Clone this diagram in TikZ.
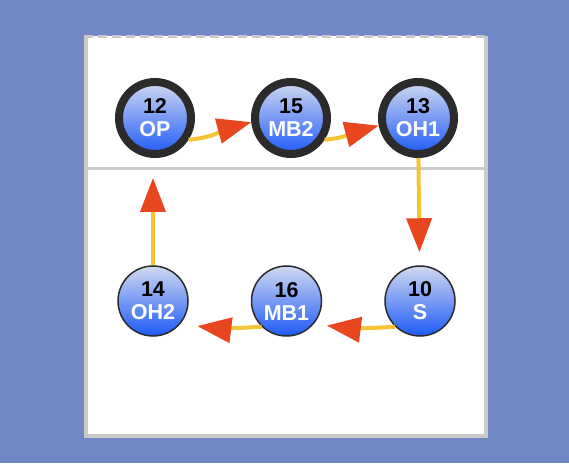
\documentclass[tikz,border=0pt]{standalone}
\usepackage{fontspec}
\setmainfont{Liberation Sans}
\usepackage{tikz}
\usetikzlibrary{arrows.meta,positioning}
\tikzset{
  pnode/.style={circle, draw=ringdark, line width=1.5pt, minimum size=70pt, inner sep=0pt, top color=shadetop, bottom color=shadebot, text=white, align=center, font=\fontsize{21.5}{23}\selectfont\bfseries},
  pnodefront/.style={pnode, line width=8pt, minimum size=72pt},
  parrow/.style={-{Triangle[length=34pt, width=25pt, color=arrowred]}, line width=4pt, arrowyellow}
}
\definecolor{courtblue}{RGB}{112,137,198}
\definecolor{courtgray}{RGB}{202,202,202}
\definecolor{ringdark}{RGB}{43,43,43}
\definecolor{shadetop}{RGB}{208,217,240}
\definecolor{shadebot}{RGB}{30,90,247}
\definecolor{arrowyellow}{RGB}{245,196,52}
\definecolor{arrowred}{RGB}{232,70,30}

\begin{document}
\begin{tikzpicture}[x=1pt, y=1pt]
\fill[courtblue] (0,0) rectangle (569,463);
\useasboundingbox (0,0) rectangle (569,463);
% court and net
\fill[white] (86,27) rectangle (486,426.5);
\draw[courtgray, line width=4pt] (86,426.5) -- (86,27) -- (486,27) -- (486,426.5);
\draw[courtgray, line width=3pt, dash pattern=on 9pt off 5pt] (84,426.5) -- (488,426.5);
\draw[courtgray, line width=3pt] (88,294.5) -- (484,294.5);
% front row
\node[pnodefront] (op) at (155,345) {\textcolor{black}{12}\\OP};
\node[pnodefront, right=56pt of op] (mb2) {\textcolor{black}{15}\\MB2};
\node[pnodefront, right=47pt of mb2] (oh1) {\textcolor{black}{13}\\OH1};
% back row
\node[pnode] (s) at (420,162) {\textcolor{black}{10}\\S};
\node[pnode, left=62pt of s] (mb1) {\textcolor{black}{16}\\MB1};
\node[pnode, left=62pt of mb1] (oh2) {\textcolor{black}{14}\\OH2};
\coordinate (oh2tip) at (153,285);
% rotation
\draw[parrow] (op.-33) to[out=5, in=195] (mb2.186);
\draw[parrow] (mb2.-33) to[out=5, in=195] (oh1.191);
\draw[parrow, shorten >=13pt] (oh1) -- (s);
\draw[parrow, shorten >=13pt] (s.-134) to[out=184, in=-7] (mb1.-40);
\draw[parrow, shorten >=17pt] (mb1.-134) to[out=184, in=-7] (oh2.-40);
\draw[parrow] (oh2) -- (oh2tip);
\end{tikzpicture}
\end{document}
